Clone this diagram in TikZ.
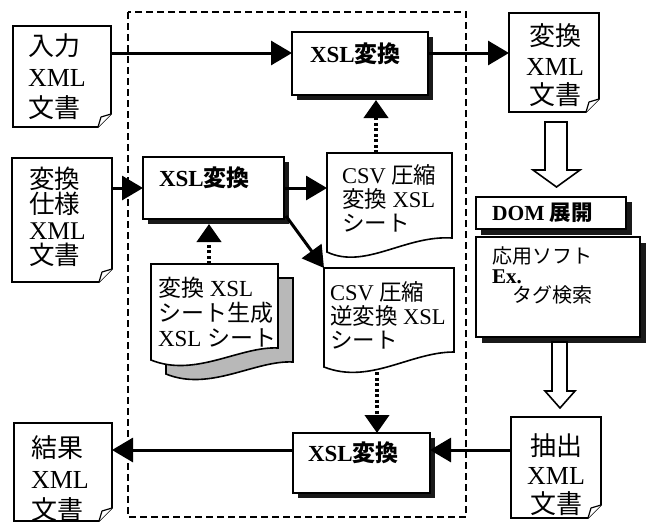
\documentclass[tikz,border=0pt]{standalone}
\usepackage{fontspec}
\setmainfont{Liberation Serif}
\newfontfamily\jp{Noto Sans CJK JP}
\usetikzlibrary{arrows.meta,calc}
\newcommand\J[1]{{\jp #1}}
\newcommand\fdoc[1]{%
  \draw[outl] (#1.north west) -- (#1.north east) -- ($(#1.south east)+(0,-13)$)
     -- ($(#1.south east)+(-13,0)$) -- (#1.south west) -- cycle;
  \draw[outl, line width=1.2pt, line join=round] ($(#1.south east)+(0,-13)$)
     -- ($(#1.south east)+(-10,-10)$) -- ($(#1.south east)+(-13,0)$);}
\begin{document}
\begin{tikzpicture}[x=1pt,y=-1pt,
  outl/.style={draw=black, line width=1.6pt, fill=white},
  shadowc/.style={fill=black!90, draw=none},
  holder/.style={rectangle, inner sep=0pt, outer sep=0pt, draw=none},
  txt/.style={inner sep=0pt, outer sep=0pt, align=left, anchor=north west},
  ctxt/.style={inner sep=0pt, outer sep=0pt, align=center, anchor=north},
  conn/.style={line width=3pt, -{Triangle[length=21pt,width=24pt]}},
  dotc/.style={line width=4pt, dash pattern=on 3pt off 2.5pt, -{Triangle[length=18pt,width=24pt]}},
  framel/.style={line width=1.5pt, dash pattern=on 7pt off 4pt},
  hollow/.style={draw=black, line width=1.6pt, fill=white, line join=miter}]
\useasboundingbox (0,0) rectangle (648,522);

% dashed frame
\draw[framel] (128,12) rectangle (466,517);

% folded documents
\node[holder, minimum width=98, minimum height=101] (inD) at (62,76.5) {};
\node[holder, minimum width=100, minimum height=124] (specD) at (62,220) {};
\node[holder, minimum width=98, minimum height=98] (resD) at (63,472) {};
\node[holder, minimum width=90, minimum height=99] (outD) at (554,62.5) {};
\node[holder, minimum width=90, minimum height=101] (extD) at (556,467.5) {};
\fdoc{inD}\fdoc{specD}\fdoc{resD}\fdoc{outD}\fdoc{extD}

\node[txt, font=\fontsize{26}{31}\selectfont] (inT) at (28,34) {\J{入力}\\XML\\\J{文書}};
\node[txt, font=\fontsize{25.5}{25.5}\selectfont] (specT) at (29,167) {\J{変換}\\\J{仕様}\\XML\\\J{文書}};
\node[txt, font=\fontsize{26}{31}\selectfont] (resT) at (31,436) {\J{結果}\\XML\\\J{文書}};
\node[ctxt, font=\fontsize{26}{29.5}\selectfont] (outT) at (555,24) {\J{変換}\\XML\\\J{文書}};
\node[ctxt, font=\fontsize{26}{29}\selectfont] (extT) at (556,434) {\J{抽出}\\XML\\\J{文書}};

% shadows of the boxes
\fill[shadowc] (297,37) rectangle (433,100);
\fill[shadowc] (148,162) rectangle (289,224);
\fill[shadowc] (298,438) rectangle (435,498);
\fill[shadowc] (481,202) rectangle (632,235);
\fill[shadowc] (482,243) rectangle (646,343);

% XSL boxes
\node[holder, outl, minimum width=136, minimum height=63] (xslA) at (360,63.5) {};
\node[holder, outl, minimum width=141, minimum height=62] (xslB) at (213.5,188) {};
\node[holder, outl, minimum width=137, minimum height=60] (xslC) at (361.5,463) {};
\node[txt, font=\fontsize{23}{24}\selectfont\bfseries] (xslAT) at (310,43) {XSL\J{変換}};
\node[txt, font=\fontsize{23}{24}\selectfont\bfseries] (xslBT) at (159,167) {XSL\J{変換}};
\node[txt, font=\fontsize{23}{24}\selectfont\bfseries] (xslCT) at (308,442) {XSL\J{変換}};

% wavy sheets
\node[holder, minimum width=125, minimum height=99] (csvA) at (389.5,202.5) {};
\node[holder, minimum width=130, minimum height=99] (csvB) at (389,317.5) {};
\node[holder, minimum width=127, minimum height=96] (gen) at (214.5,312) {};
\draw[outl] (327,153) -- (452,153) -- (452,238) .. controls (405,235) and (365,270) .. (327,252) -- cycle;
\draw[outl] (324,268) -- (454,268) -- (454,352) .. controls (410,352) and (370,385) .. (324,367) -- cycle;
\draw[outl, fill=black!28] (166,278) -- (293,278) -- (293,362) .. controls (255,360) and (210,392) .. (166,374) -- cycle;
\draw[outl] (151,264) -- (278,264) -- (278,348) .. controls (240,346) and (195,378) .. (151,360) -- cycle;
\node[txt, font=\fontsize{22.5}{24}\selectfont] (csvAT) at (342,165) {CSV \J{圧縮}\\\J{変換} XSL\\\J{シート}};
\node[txt, font=\fontsize{22.5}{24}\selectfont] (csvBT) at (330,282) {CSV \J{圧縮}\\\J{逆変換} XSL\\\J{シート}};
\node[txt, font=\fontsize{23}{25}\selectfont] (genT) at (158,277) {\J{変換} XSL\\\J{シート生成}\\XSL \J{シート}};

% DOM / application boxes
\node[holder, outl, minimum width=150, minimum height=32] (dom) at (551,213) {};
\node[holder, outl, minimum width=164, minimum height=100] (app) at (558,287) {};
\node[txt, font=\fontsize{21.5}{22}\selectfont\bfseries] (domT) at (492,203) {DOM \J{展開}};
\node[txt, font=\fontsize{20}{19.5}\selectfont] (appT) at (492,247) {\J{応用ソフト}\\\textbf{\fontsize{21}{19.5}\selectfont Ex.}\\\hspace{1em}\J{タグ検索}};

% hollow arrows
\draw[hollow] (545,122) -- (567,122) -- (567,170) -- (580,170) -- (556.5,187) -- (533,170) -- (545,170) -- cycle;
\draw[hollow] (552,342) -- (567,342) -- (567,391) -- (575,391) -- (560,408) -- (545,391) -- (552,391) -- cycle;

% connectors
\coordinate (rowA) at ($(xslA.west)+(0,-10.5)$);
\draw[conn] (inD.east |- rowA) -- (rowA);
\draw[conn] (xslA.east |- rowA) -- (outD.west |- rowA);
\draw[conn] (specD.east |- xslB.west) -- (xslB.west);
\draw[conn] (xslB.east) -- (csvA.west |- xslB.east);
\draw[conn] ($(xslB.south east)+(2,-3)$) -- (csvB.north west);
\draw[dotc] (csvA.north -| 376,0) -- ($(xslA.south -| 376,0)+(0,5)$);
\draw[dotc] (gen.north -| 209,0) -- ($(xslB.south -| 209,0)+(0,5)$);
\draw[dotc] (377,372) -- (xslC.north -| 377,0);
\coordinate (rowC) at ($(xslC.east)+(0,-13)$);
\draw[conn] (extD.west |- rowC) -- (rowC);
\draw[conn] (xslC.west |- rowC) -- (resD.east |- rowC);
\end{tikzpicture}
\end{document}
